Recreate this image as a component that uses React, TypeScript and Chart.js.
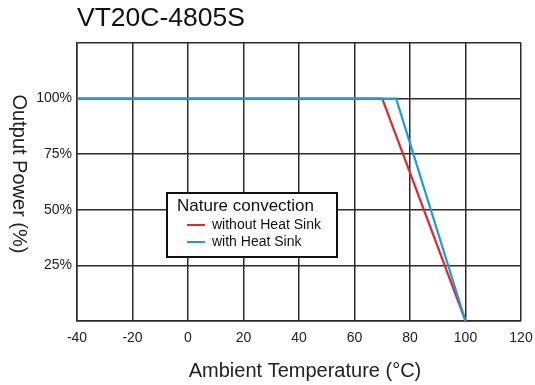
import React, { useEffect, useRef } from "react";
import { Chart, registerables } from "chart.js";

Chart.register(...registerables);

const titleText = "VT20C-4805S";
const xTitle = "Ambient Temperature (°C)";
const yTitle = "Output Power (%)";
const legendTitle = "Nature convection";

const withoutLabel = "without Heat Sink";
const withoutX = [-40, 70, 100];
const withoutY = [100, 100, 0];

const withLabel = "with Heat Sink";
const withX = [-40, 75, 100];
const withY = [100, 100, 0];

const yTickValues = [25, 50, 75, 100];

const RED = "#e5262b";
const BLUE = "#1c9be2";
const GRID = "#2b2b2b";
const FONT = "'Liberation Sans', Arial, sans-serif";

const textPlugin = {
  id: "customText",
  afterDraw(chart: any) {
    const ctx = chart.ctx;
    ctx.save();
    // main title
    ctx.fillStyle = "#111";
    ctx.font = `26.5px ${FONT}`;
    ctx.textAlign = "left";
    ctx.textBaseline = "alphabetic";
    ctx.fillText(titleText, 77, 26);
    // x title
    ctx.font = `20px ${FONT}`;
    ctx.textAlign = "center";
    ctx.textBaseline = "middle";
    ctx.fillStyle = "#222";
    ctx.fillText(xTitle, 305, 371);
    // y title, reading downward
    ctx.translate(19, 174);
    ctx.rotate(Math.PI / 2);
    ctx.fillText(yTitle, 0, 0);
    ctx.restore();

    // legend box
    ctx.save();
    const bx = 167, by = 193, bw = 170, bh = 64;
    ctx.fillStyle = "#fff";
    ctx.fillRect(bx, by, bw, bh);
    ctx.strokeStyle = "#111";
    ctx.lineWidth = 2;
    ctx.strokeRect(bx, by, bw, bh);
    ctx.fillStyle = "#111";
    ctx.font = `17px ${FONT}`;
    ctx.textAlign = "left";
    ctx.textBaseline = "middle";
    ctx.fillText(legendTitle, 177, 206);
    const items = [
      { label: withoutLabel, color: RED, y: 225 },
      { label: withLabel, color: BLUE, y: 242 },
    ];
    ctx.font = `14px ${FONT}`;
    for (const it of items) {
      ctx.strokeStyle = it.color;
      ctx.lineWidth = 2;
      ctx.beginPath();
      ctx.moveTo(187, it.y);
      ctx.lineTo(205, it.y);
      ctx.stroke();
      ctx.fillStyle = "#111";
      ctx.fillText(it.label, 212, it.y);
    }
    ctx.restore();
  },
};

export default function App() {
  const ref = useRef<HTMLCanvasElement | null>(null);
  useEffect(() => {
    if (!ref.current) return;
    const chart = new Chart(ref.current, {
      type: "line",
      data: {
        datasets: [
          {
            label: withLabel,
            data: withX.map((x, i) => ({ x, y: withY[i] })),
            borderColor: BLUE,
            borderWidth: 2.2,
            pointRadius: 0,
            tension: 0,
          },
          {
            label: withoutLabel,
            data: withoutX.map((x, i) => ({ x, y: withoutY[i] })),
            borderColor: RED,
            borderWidth: 2.2,
            pointRadius: 0,
            tension: 0,
          },
        ],
      },
      options: {
        animation: false,
        responsive: false,
        maintainAspectRatio: false,
        layout: { padding: { top: 43, left: 0, right: 14, bottom: 0 } },
        plugins: {
          legend: { display: false },
          title: { display: false },
          tooltip: { enabled: false },
        },
        scales: {
          x: {
            type: "linear",
            min: -40,
            max: 120,
            ticks: {
              stepSize: 20,
              color: "#222",
              font: { size: 14, family: FONT },
              padding: 9,
              maxRotation: 0,
            },
            grid: { color: GRID, lineWidth: 1.5, drawTicks: false },
            border: { color: GRID, width: 1.5 },
            afterFit: (s: any) => {
              s.height = 64;
              s.paddingLeft = 0;
              s.paddingRight = 0;
            },
          },
          y: {
            type: "linear",
            min: 0,
            max: 125,
            ticks: {
              stepSize: 25,
              color: "#222",
              font: { size: 14, family: FONT },
              padding: 5,
              callback: (v: any) => (yTickValues.includes(v) ? `${v}%` : ""),
            },
            grid: { color: GRID, lineWidth: 1.5, drawTicks: false },
            border: { color: GRID, width: 1.5 },
            afterFit: (s: any) => {
              s.width = 77;
              s.paddingTop = 0;
              s.paddingBottom = 0;
            },
          },
        },
      },
      plugins: [textPlugin],
    });
    return () => chart.destroy();
  }, []);
  return (
    <div style={{ position: "absolute", left: 0, top: 0, width: 535, height: 385, background: "#fff" }}>
      <canvas ref={ref} width={535} height={385} style={{ width: 535, height: 385 }} />
    </div>
  );
}
